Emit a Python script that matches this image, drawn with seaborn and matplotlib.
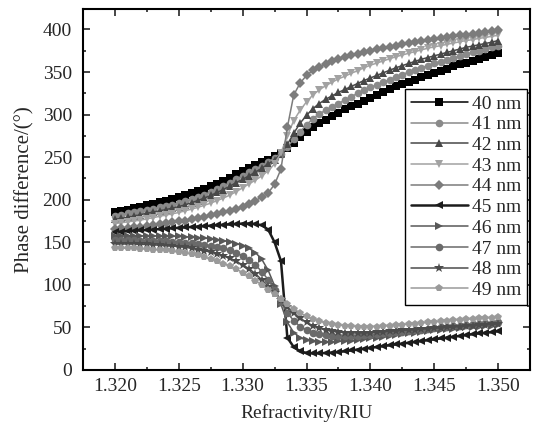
import numpy as np
import pandas as pd
import seaborn as sns
import matplotlib.pyplot as plt
from matplotlib.ticker import MultipleLocator

# refractive index axis, 61 samples
ri = np.round(np.arange(0, 61) * 0.0005 + 1.320, 4)

ph_40 = [185, 186.5, 188, 190, 192, 194, 195.5, 197, 199, 201, 203, 205.5, 208, 210.5, 213, 216, 219, 222.5, 226, 230,
         234, 237, 240.5, 244, 247, 251, 255, 261, 267, 274, 280, 285, 290, 294, 298, 302, 306, 309.5, 313, 316.5,
         320, 323.5, 327, 330, 333, 336, 338.5, 341, 344, 346.5, 349, 351.5, 354, 356.5, 359, 361, 363, 365.5, 367.5, 370, 372]
ph_41 = [181, 182.5, 184, 185.5, 186.5, 188, 189.5, 191, 192.5, 194, 196, 198, 200.5, 203, 206, 209, 212.5, 216, 220, 224,
         228, 232, 236, 240, 244, 249, 254, 262, 271, 280, 288, 295, 301, 305, 309, 313, 317, 321, 325, 328.5,
         332, 335, 338, 341, 344, 347, 350, 352.5, 355, 357.5, 360, 362, 364.5, 366.5, 368.5, 371, 373, 375, 377, 379, 381]
ph_42 = [177, 178, 179.5, 181, 182.5, 184, 185.5, 187, 188.5, 190, 192, 194, 196.5, 199, 202, 205, 208.5, 212, 216, 220,
         224, 228, 232.5, 237, 242, 247, 254, 265, 278, 290, 299, 307, 313, 318, 322, 326, 329.5, 333, 336.5, 340,
         343, 346, 349, 352, 355, 357.5, 360, 362.5, 365, 367, 369, 371, 373, 375, 377, 379, 380.5, 382, 383.5, 385, 387]
ph_43 = [172, 173, 174, 175, 176, 177.5, 179, 180.5, 182, 183.5, 185, 187, 189, 191, 193.5, 196, 199, 202, 205.5, 209.5,
         214, 218.5, 223, 228, 234, 242, 255, 275, 293, 305, 315, 323, 329, 334, 338, 342, 345, 348.5, 351.5, 355,
         358, 360.5, 363, 365.5, 368, 370, 372, 374, 376, 378, 379.5, 381, 382.5, 384, 385.5, 387, 388, 389.5, 390.5, 392, 393]
ph_44 = [166, 166.5, 167, 168, 168.5, 169.5, 170.5, 171.5, 172.5, 173.5, 174.5, 175.5, 177, 178.5, 180, 181.5, 183, 185, 187, 189.5,
         192, 195, 199, 203, 208, 218, 236, 285, 323, 337, 346, 352, 356, 359.5, 362.5, 365, 367.5, 369.5, 371.5, 373.5,
         375, 376.5, 378, 379.5, 381, 382.5, 384, 385.5, 387, 388, 389, 390, 391, 392, 393, 394, 395, 396, 397, 398, 399]
ph_45 = [162, 162.5, 163, 163.5, 164, 164.5, 165, 165.5, 166, 166.5, 167, 167.5, 168, 168.5, 169, 169.5, 170, 170.5, 171, 171.5,
         172, 172, 171.5, 170, 165, 150, 128, 38, 27, 22, 20, 19.5, 19.5, 20, 20.5, 21, 22, 23, 24, 25,
         26, 27, 28, 29, 30, 31, 32, 33, 34, 35, 36, 37, 38, 39, 40, 41, 42, 43, 43.5, 44.5, 45.5]
ph_46 = [157.5, 157.5, 157.5, 157.5, 157.5, 157.5, 157.5, 157.5, 157, 157, 157, 156.5, 156, 155.5, 155, 154, 153, 152, 150.5, 148.5,
         146, 143, 138, 130, 117, 99, 77, 56, 44, 38, 35, 33.5, 33, 33, 33, 33.5, 34, 34.5, 35, 36,
         37, 38, 39, 40, 41, 42, 43, 44, 45, 45.5, 46.5, 47, 48, 48.5, 49, 50, 50.5, 51, 51.5, 52, 52.5]
ph_47 = [152.5, 152.5, 152.5, 152.5, 152, 152, 152, 151.5, 151, 150.5, 150, 149.5, 149, 148, 147, 146, 144.5, 143, 140.5, 137.5,
         134, 129.5, 123.5, 115.5, 106, 94, 80, 67, 58, 51, 47, 44, 42, 41, 40, 40, 40, 40, 40.5, 41,
         41.5, 42, 43, 43.5, 44.5, 45, 46, 47, 47.5, 48.5, 49, 50, 50.5, 51.5, 52, 53, 53.5, 54, 55, 55.5, 56]
ph_48 = [148, 148, 148, 148, 147.5, 147.5, 147, 146.5, 146, 145.5, 145, 144, 143, 141.5, 140, 138.5, 136.5, 134, 131, 127.5,
         123.5, 119, 113, 106, 98, 90, 82, 74, 67, 61, 56, 52, 49, 47, 45.5, 44.5, 44, 43.5, 43.5, 43.5,
         44, 44.5, 45, 45.5, 46, 46.5, 47, 47.5, 48, 48.5, 49, 49.5, 50, 50.5, 51, 51.5, 52, 52.5, 53, 53.5, 54]
ph_49 = [143, 143, 143, 143, 142.5, 142, 141.5, 141, 140.5, 139.5, 138.5, 137.5, 136, 134.5, 132.5, 130.5, 128, 125, 122, 118.5,
         114.5, 110, 105, 100, 94.5, 89, 83, 77.5, 72, 67, 63, 60, 57.5, 55.5, 54, 53, 52, 51.5, 51, 51,
         51, 51, 51.5, 52, 52.5, 53, 54, 54.5, 55, 56, 56.5, 57, 58, 58.5, 59, 59.5, 60, 60.5, 61, 61.5, 62]

labels = ['40 nm', '41 nm', '42 nm', '43 nm', '44 nm', '45 nm', '46 nm', '47 nm', '48 nm', '49 nm']
series = [ph_40, ph_41, ph_42, ph_43, ph_44, ph_45, ph_46, ph_47, ph_48, ph_49]
colors = ['#000000', '#8a8a8a', '#484848', '#a2a2a2', '#7c7c7c', '#1c1c1c', '#585858', '#6a6a6a', '#4c4c4c', '#9a9a9a']
markers = ['s', 'o', '^', 'v', 'D', '<', '>', 'o', '*', 'p']

sns.set_style('ticks')
plt.rcParams['font.family'] = ['Liberation Serif', 'DejaVu Serif']

fig = plt.figure(figsize=(5.4, 4.33), dpi=100)
ax = fig.add_axes([0.1537, 0.1455, 0.8278, 0.8337])

for lab, ys, c, m in zip(labels, series, colors, markers):
    ms = 5.5
    if m == '*':
        ms = 7
    elif m == 'D':
        ms = 4.8
    lw = 1.8 if lab == '45 nm' else 1.1
    sns.lineplot(x=ri, y=ys, ax=ax, color=c, marker=m, markersize=ms,
                 markeredgewidth=0, linewidth=lw, label=lab)

ax.set_xlim(1.3175, 1.3525)
ax.set_ylim(0, 424)
ax.xaxis.set_major_locator(MultipleLocator(0.005))
ax.xaxis.set_minor_locator(MultipleLocator(0.0025))
ax.yaxis.set_major_locator(MultipleLocator(50))
ax.yaxis.set_minor_locator(MultipleLocator(25))
ax.xaxis.set_major_formatter(plt.FormatStrFormatter('%.3f'))
ax.tick_params(which='both', direction='in', top=True, right=True, labelsize=14, width=1.2)
ax.tick_params(which='major', length=5, pad=6)
ax.tick_params(which='minor', length=2.5)
ax.tick_params(axis='y', which='major', pad=8)
for sp in ax.spines.values():
    sp.set_linewidth(1.5)
    sp.set_color('black')

ax.set_xlabel('Refractivity/RIU', fontsize=14, labelpad=6)
ax.set_ylabel('Phase difference/(°)', fontsize=15, labelpad=6)

leg = ax.legend(loc='upper right', bbox_to_anchor=(0.993, 0.778), borderaxespad=0,
                fontsize=14, handlelength=2.9, handletextpad=0.2, labelspacing=0.16,
                borderpad=0.3, fancybox=False, framealpha=1, edgecolor='black')
leg.get_frame().set_linewidth(1.0)

fig.savefig('out.png', dpi=100)
